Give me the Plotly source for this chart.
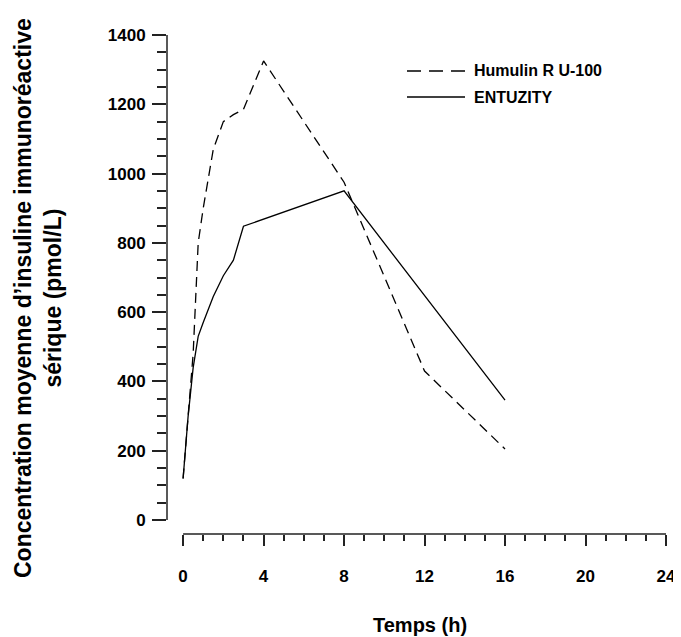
import plotly.graph_objects as go

# Data
humulin_t = [0, 0.25, 0.5, 0.75, 1, 1.5, 2, 2.5, 3, 4, 8, 12, 16]
humulin_v = [120, 300, 480, 800, 900, 1070, 1150, 1170, 1185, 1325, 975, 430, 205]
entuzity_t = [0, 0.25, 0.5, 0.75, 1, 1.5, 2, 2.5, 3, 8, 16]
entuzity_v = [120, 300, 440, 530, 570, 645, 705, 750, 848, 950, 346]
x_ticks = [0, 4, 8, 12, 16, 20, 24]
y_ticks = [0, 200, 400, 600, 800, 1000, 1200, 1400]

FONT = "Liberation Sans"
W, H = 681, 637
ML, MR, MT, MB = 159, 23, 27, 111
PW = W - ML - MR
PH = H - MT - MB


def px(xs):
    return ((xs - 8) - ML) / PW


def py(ys):
    return ((H - MB) - (ys - 8)) / PH


fig = go.Figure()
fig.add_trace(go.Scatter(x=humulin_t, y=humulin_v, mode="lines", name="Humulin R U-100",
                         line=dict(color="black", width=1.3, dash="10px,6px"), showlegend=False))
fig.add_trace(go.Scatter(x=entuzity_t, y=entuzity_v, mode="lines", name="ENTUZITY",
                         line=dict(color="black", width=1.3), showlegend=False))

# axis lines (detached axes)
fig.add_shape(type="line", xref="paper", yref="y", x0=0, x1=0, y0=0, y1=1400,
              line=dict(color="#222", width=1.5))
fig.add_shape(type="line", xref="x", yref="paper", x0=0, x1=24, y0=0, y1=0,
              line=dict(color="#222", width=1.5))

# legend (manual)
fig.add_shape(type="line", xref="paper", yref="paper", x0=px(407), x1=px(465),
              y0=py(71), y1=py(71), line=dict(color="black", width=1.3, dash="14px,8px"))
fig.add_shape(type="line", xref="paper", yref="paper", x0=px(407), x1=px(465),
              y0=py(97), y1=py(97), line=dict(color="black", width=1.3))
fig.add_annotation(xref="paper", yref="paper", x=px(472), y=py(71), text="Humulin R U-100",
                   showarrow=False, xanchor="left", yanchor="middle",
                   font=dict(family=FONT, size=16, color="black", weight="bold"))
fig.add_annotation(xref="paper", yref="paper", x=px(472), y=py(97), text="ENTUZITY",
                   showarrow=False, xanchor="left", yanchor="middle",
                   font=dict(family=FONT, size=16, color="black", weight="bold"))

# y axis title
fig.add_annotation(xref="paper", yref="paper", x=px(38), y=py(298),
                   text="Concentration moyenne d’insuline immunoréactive<br>sérique (pmol/L)",
                   textangle=-90, showarrow=False, xanchor="center", yanchor="middle",
                   font=dict(family=FONT, size=23, color="black", weight="bold"))
# x axis title
fig.add_annotation(xref="paper", yref="paper", x=px(420), y=py(625),
                   text="Temps (h)", showarrow=False, xanchor="center", yanchor="middle",
                   font=dict(family=FONT, size=20, color="black", weight="bold"))

fig.update_layout(
    width=W, height=H,
    margin=dict(l=ML, r=MR, t=MT, b=MB),
    plot_bgcolor="white", paper_bgcolor="white",
    xaxis=dict(range=[-0.8, 24], tickvals=x_ticks, ticktext=[str(v) for v in x_ticks],
               ticks="outside", ticklen=11, tickwidth=1.5, tickcolor="#222",
               showline=False, showgrid=False, zeroline=False,
               minor=dict(dtick=1, tick0=0, ticks="outside", ticklen=6, tickwidth=1.5, tickcolor="#222"),
               tickfont=dict(family=FONT, size=17, color="black", weight="bold"),
               ticklabelstandoff=16),
    yaxis=dict(range=[-40.4, 1400], tickvals=y_ticks, ticktext=[str(v) for v in y_ticks],
               ticks="outside", ticklen=14, tickwidth=1.5, tickcolor="#222",
               showline=False, showgrid=False, zeroline=False,
               minor=dict(dtick=50, tick0=0, ticks="outside", ticklen=9, tickwidth=1.5, tickcolor="#222"),
               tickfont=dict(family=FONT, size=17, color="black", weight="bold"),
               ticklabelstandoff=3),
)

fig.write_html("out.html")
